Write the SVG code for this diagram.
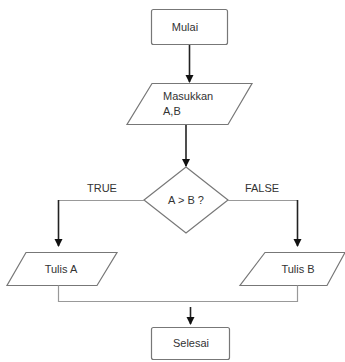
<svg xmlns="http://www.w3.org/2000/svg" width="345" height="362" viewBox="0 0 345 362">
<defs>
<style>
.shape{fill:#fff;stroke:#777;stroke-width:1.2}
.line{fill:none;stroke:#999;stroke-width:1.2}
.arr{fill:none;stroke:#222;stroke-width:1.6;marker-end:url(#ah)}
text{font-family:"Liberation Sans",Arial,sans-serif;font-size:11px;fill:#333}
</style>
<marker id="ah" markerWidth="8" markerHeight="9" refX="7" refY="4" orient="auto" markerUnits="userSpaceOnUse">
<path d="M0,0 L8,4 L0,8 Z" fill="#111"/>
</marker>
</defs>
<rect width="345" height="362" fill="#fff"/>
<g id="mulai">
<rect class="shape" x="151.5" y="9.5" width="76" height="35" rx="2"/>
<text x="185" y="31" text-anchor="middle">Mulai</text>
</g>
<g id="input">
<polygon class="shape" points="152,83.5 252,83.5 228,124.5 127,124.5"/>
<text x="163" y="100">Masukkan</text>
<text x="163" y="115">A,B</text>
</g>
<g id="decision">
<polygon class="shape" points="186,167 228,200 186,233 144,200"/>
<text x="186" y="204" text-anchor="middle">A &gt; B ?</text>
</g>
<g id="tulisA">
<polygon class="shape" points="26,252.5 117,252.5 97,285.5 7,285.5"/>
<text x="61" y="273" text-anchor="middle">Tulis A</text>
</g>
<g id="tulisB">
<polygon class="shape" points="265,252.5 345,252.5 327,285.5 240,285.5"/>
<text x="298" y="273" text-anchor="middle">Tulis B</text>
</g>
<g id="selesai">
<rect class="shape" x="151.5" y="327.5" width="78" height="32" rx="2"/>
<text x="191" y="347" text-anchor="middle">Selesai</text>
</g>
<g id="labels">
<text x="102" y="192" text-anchor="middle">TRUE</text>
<text x="262" y="192" text-anchor="middle">FALSE</text>
</g>
<g id="connectors">
<line class="arr" x1="189.5" y1="45" x2="189.5" y2="82"/>
<line class="arr" x1="186" y1="125" x2="186" y2="166"/>
<polyline class="line" points="144,200.5 58.5,200.5"/>
<line class="arr" x1="58.5" y1="200" x2="58.5" y2="246"/>
<polyline class="line" points="228,200.5 297.5,200.5"/>
<line class="arr" x1="297.5" y1="200" x2="297.5" y2="246"/>
<polyline class="line" points="58.5,285.5 58.5,301.5 297.5,301.5 297.5,285.5"/>
<line class="arr" x1="190.5" y1="307" x2="190.5" y2="324"/>
</g>
</svg>
